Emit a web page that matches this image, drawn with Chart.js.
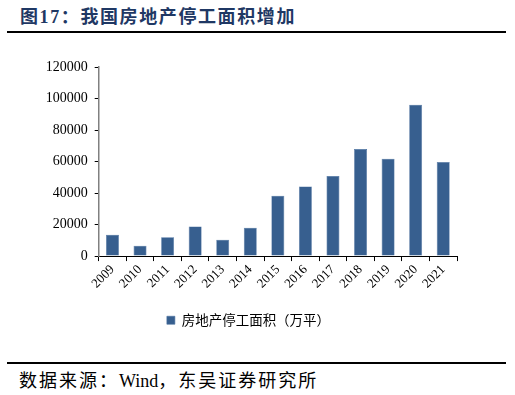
<!DOCTYPE html>
<html>
<head>
<meta charset="utf-8">
<script src="https://cdn.jsdelivr.net/npm/chart.js@4.4.0/dist/chart.umd.min.js"></script>
<style>
  body { margin: 0; width: 515px; height: 395px; background: #fff; position: relative; overflow: hidden; }
  #title { position: absolute; left: 20px; top: 2px; font-family: "Liberation Serif", "Noto Sans CJK SC"; font-weight: bold; font-size: 18px; letter-spacing: 1.6px; color: #1F3864; }
  .rule { position: absolute; left: 7px; width: 499px; height: 2px; background: #000; }
  #src { position: absolute; left: 19px; top: 366px; font-family: "Liberation Serif", "Noto Sans CJK SC"; font-size: 18px; color: #000; }
  #src .cj { letter-spacing: 2px; }
  #wrap { position: absolute; left: 0; top: 40px; width: 515px; height: 310px; }
</style>
</head>
<body>
<div id="title">图17：我国房地产停工面积增加</div>
<div class="rule" style="top:31px"></div>
<div id="wrap"><canvas id="grafik"></canvas></div>
<div class="rule" style="top:362px"></div>
<div id="src"><span class="cj">数据来源：</span>Wind<span class="cj">，东吴证券研究所</span></div>
<script>
// data
const tahun = ['2009', '2010', '2011', '2012', '2013', '2014', '2015', '2016', '2017', '2018', '2019', '2020', '2021'];
const luasStop = [13600, 6600, 11900, 18800, 10400, 18000, 38300, 44200, 50800, 67900, 61800, 96100, 59700];
const namaSeri = '房地产停工面积（万平）';

const ctx = document.getElementById('grafik').getContext('2d');
new Chart(ctx, {
  type: 'bar',
  data: {
    labels: tahun,
    datasets: [{
      label: namaSeri,
      data: luasStop,
      backgroundColor: '#375F8F',
      borderColor: '#4A70A0',
      borderWidth: 0.6,
      barPercentage: 0.47,
      categoryPercentage: 1
    }]
  },
  options: {
    responsive: true,
    maintainAspectRatio: false,
    animation: false,
    layout: { padding: { top: 27, left: 40, right: 58, bottom: 13 } },
    plugins: {
      tooltip: { enabled: false },
      legend: {
        position: 'bottom',
        labels: {
          boxWidth: 8, boxHeight: 8, padding: 16,
          color: '#000',
          font: { family: '"Noto Sans CJK SC"', size: 13.5 }
        }
      }
    },
    scales: {
      x: {
        grid: { drawOnChartArea: false, drawTicks: true, tickLength: 5, color: '#000' },
        border: { color: '#000', width: 1 },
        afterFit: s => { s.height += 5; },
        ticks: {
          minRotation: 45, maxRotation: 45, padding: 1,
          color: '#000',
          font: { family: '"Liberation Serif"', size: 13 }
        }
      },
      y: {
        min: 0, max: 120000,
        grid: { drawOnChartArea: false, drawTicks: true, tickLength: 4, color: '#000' },
        border: { color: '#808080', width: 1.5 },
        afterFit: s => { s.width = 58.7; },
        ticks: {
          stepSize: 20000, padding: 7,
          color: '#000',
          font: { family: '"Liberation Serif"', size: 14 },
          callback: v => String(v)
        }
      }
    }
  }
});
</script>
</body>
</html>
